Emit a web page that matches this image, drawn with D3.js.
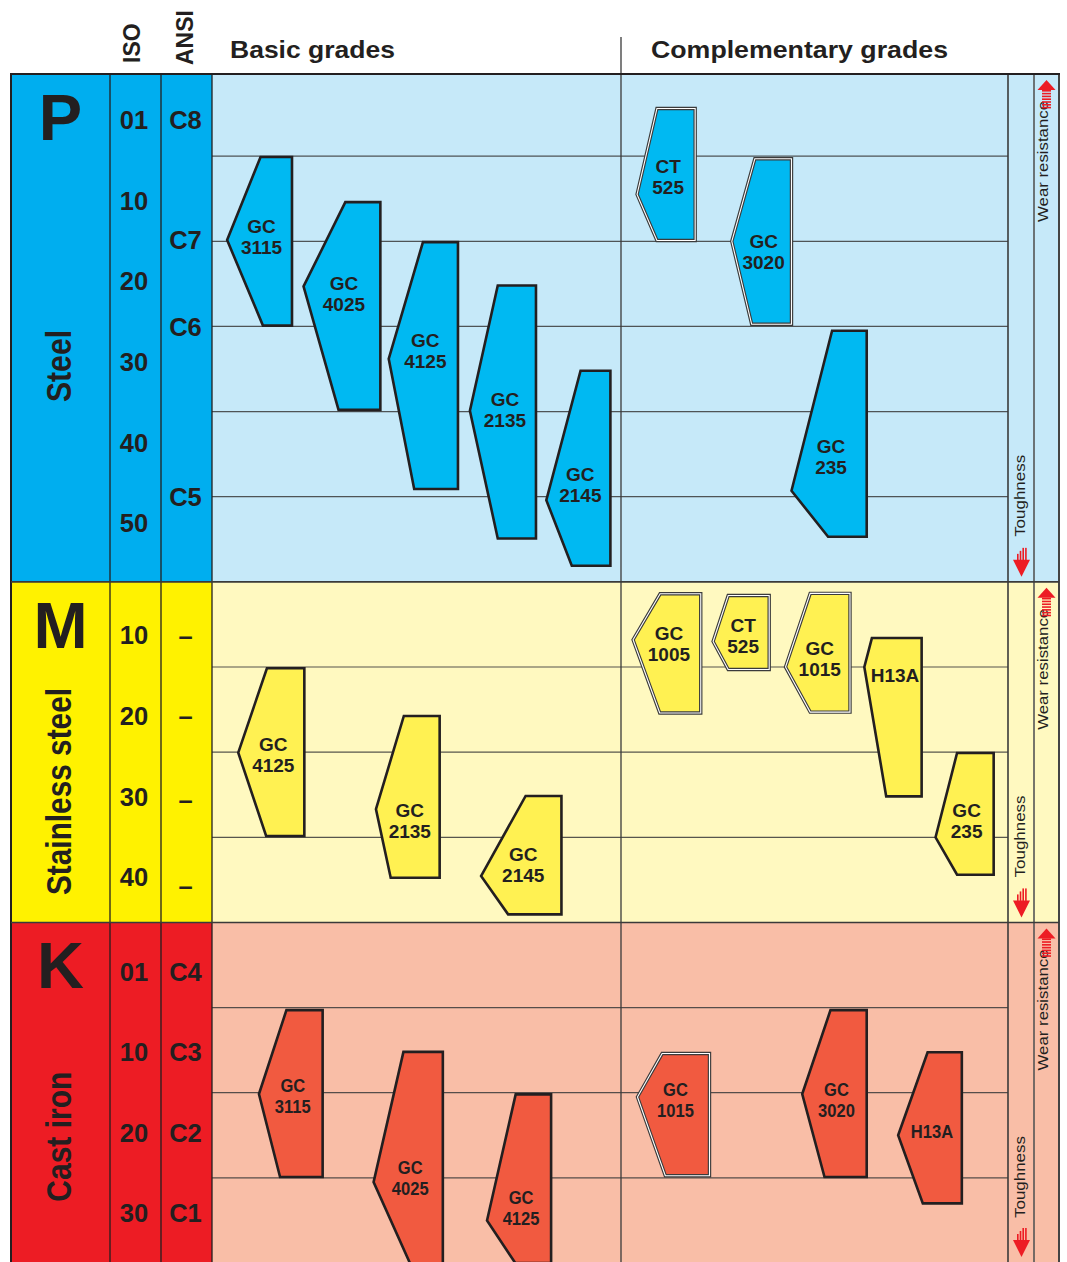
<!DOCTYPE html>
<html>
<head>
<meta charset="utf-8">
<script src="https://cdn.jsdelivr.net/npm/d3@7"></script>
<style>
  body { margin: 0; background: #fff; }
  svg { display: block; }
  text { font-family: "Liberation Sans", Arial, Helvetica, sans-serif; fill: #231f20; }
</style>
</head>
<body>
<svg id="chart" width="1067" height="1262"></svg>
<script>
// ---- material groups -------------------------------------------------------
const groups = ["P", "M", "K"];
const groupNames = ["Steel", "Stainless steel", "Cast iron"];
// span of each group on the shared row grid (one row = one grid band)
const groupRows = [[0, 6], [6, 10], [10, 14]];

// ISO application groups and ANSI classes, with their row positions
const isoTicks = [["01", "10", "20", "30", "40", "50"], ["10", "20", "30", "40"], ["01", "10", "20", "30"]];
const isoRows = [[0.575, 1.527, 2.466, 3.418, 4.369, 5.309], [6.624, 7.576, 8.527, 9.467], [10.577, 11.526, 12.477, 13.417]];
const ansiTicks = [["C8", "C7", "C6", "C5"], ["–", "–", "–", "–"], ["C4", "C3", "C2", "C1"]];
const ansiRows = [[0.575, 1.985, 3.007, 5.0], [6.64, 7.58, 8.56, 9.57], [10.577, 11.526, 12.477, 13.417]];

// ---- grade application areas ----------------------------------------------
// rows: [top, point, bottom, label centre] on the row grid
// cols: [point, top-left, bottom-left, right] in % of the grade area width
const steelGrades = [
  { grade: "GC 3115", rows: [1.01, 1.985, 2.99, 1.95],  cols: [1.9, 6.1, 6.4, 10.05] },
  { grade: "GC 4025", rows: [1.54, 2.53, 3.98, 2.62],   cols: [11.5, 16.75, 15.9, 21.15] },
  { grade: "GC 4125", rows: [2.01, 3.38, 4.91, 3.28],   cols: [22.2, 26.5, 25.4, 30.9] },
  { grade: "GC 2135", rows: [2.52, 3.99, 5.49, 3.98],   cols: [32.4, 35.9, 35.9, 40.7] },
  { grade: "GC 2145", rows: [3.52, 5.04, 5.81, 4.86],   cols: [42.0, 46.3, 45.2, 50.05] },
  { grade: "CT 525",  rows: [0.44, 1.45, 1.99, 1.245],  cols: [53.4, 55.9, 55.9, 60.7] },
  { grade: "GC 3020", rows: [1.03, 2.0, 2.975, 2.12],   cols: [65.3, 68.2, 67.8, 72.8] },
  { grade: "GC 235",  rows: [3.05, 4.93, 5.47, 4.53],   cols: [72.8, 77.9, 77.4, 82.25] }
];
const stainlessGrades = [
  { grade: "GC 4125", rows: [7.015, 8.006, 8.985, 8.03], cols: [3.3, 6.9, 6.8, 11.6] },
  { grade: "GC 2135", rows: [7.575, 8.67, 9.475, 8.81],  cols: [20.6, 24.1, 22.45, 28.6] },
  { grade: "GC 2145", rows: [8.515, 9.455, 9.905, 9.32], cols: [33.8, 39.4, 37.2, 43.9] },
  { grade: "GC 1005", rows: [6.14, 6.68, 7.54, 6.72],    cols: [52.9, 56.3, 56.25, 61.4] },
  { grade: "CT 525",  rows: [6.16, 6.70, 7.03, 6.636],   cols: [62.95, 64.85, 64.85, 70.0] },
  { grade: "GC 1015", rows: [6.135, 7.0, 7.53, 6.9],     cols: [72.05, 75.15, 75.15, 80.15] },
  { grade: "H13A",    rows: [6.66, 7.0, 8.52, 7.09],     cols: [81.95, 82.9, 84.7, 89.15] },
  { grade: "GC 235",  rows: [8.01, 9.0, 9.44, 8.81],     cols: [90.9, 93.6, 93.6, 98.2] }
];
const castIronGrades = [
  { grade: "GC 3115", rows: [11.03, 12.015, 12.99, 12.04], cols: [5.9, 9.35, 8.55, 13.9] },
  { grade: "GC 4025", rows: [11.52, 13.05, 14.05, 13.0],   cols: [20.3, 24.05, 25.1, 29.0] },
  { grade: "GC 4125", rows: [12.02, 13.5, 14.0, 13.35],    cols: [34.55, 38.15, 38.1, 42.6] },
  { grade: "GC 1015", rows: [11.54, 12.05, 12.975, 12.09], cols: [53.45, 56.55, 56.95, 62.5] },
  { grade: "GC 3020", rows: [11.03, 12.015, 12.99, 12.085], cols: [74.15, 77.7, 76.95, 82.25] },
  { grade: "H13A",    rows: [11.525, 12.5, 13.3, 12.45],   cols: [86.2, 89.9, 89.3, 94.2] }
];
const gradeSets = [steelGrades, stainlessGrades, castIronGrades];

// grades drawn with a double outline
const doubleOutlined = [["P", "CT 525"], ["P", "GC 3020"], ["M", "GC 1005"], ["M", "CT 525"], ["M", "GC 1015"], ["K", "GC 1015"]];

const headers = ["Basic grades", "Complementary grades"];

// ---- styling ---------------------------------------------------------------
const strongColor = ["#00aeef", "#fff200", "#ed1c24"];
const lightColor  = ["#c6e9f9", "#fff9c0", "#f9bea7"];
const shapeColor  = ["#00b9f2", "#fff152", "#f15a40"];
const ink = "#231f20";

const W = 1067, H = 1262;
const L = { left: 11, top: 74, isoX: 110, ansiX: 161, plotX: 212, split: 621, plotR: 1008, tough: 1034, right: 1059, headTop: 37 };

const svg = d3.select("#chart");
const y = d3.scaleLinear().domain([0, 14]).range([71, 1263]);
const x = d3.scaleLinear().domain([0, 100]).range([L.plotX, L.plotR]);

const secTop = i => i === 0 ? L.top : y(groupRows[i][0]);
const secBot = i => Math.min(H + 2, y(groupRows[i][1]));

const bg = svg.append("g");
const grid = svg.append("g");
const marks = svg.append("g");
const frame = svg.append("g");
const labels = svg.append("g");

groups.forEach((g, i) => {
  const t = secTop(i), b = secBot(i);
  bg.append("rect").attr("x", L.left).attr("y", t).attr("width", L.plotX - L.left).attr("height", b - t).attr("fill", strongColor[i]);
  bg.append("rect").attr("x", L.plotX).attr("y", t).attr("width", L.right - L.plotX).attr("height", b - t).attr("fill", lightColor[i]);

  // grid bands
  grid.selectAll(null).data(d3.range(groupRows[i][0] + 1, groupRows[i][1])).join("line")
    .attr("x1", L.plotX).attr("x2", L.plotR)
    .attr("y1", d => y(d)).attr("y2", d => y(d))
    .attr("stroke", "#3a3a3a").attr("stroke-width", 1.2).attr("stroke-opacity", 0.85);

  // grade areas
  const dbl = new Set(doubleOutlined.filter(d => d[0] === g).map(d => d[1]));
  const line = d3.line();
  const polys = gradeSets[i].map(d => {
    const [rt, ra, rb] = d.rows, [ca, ctl, cbl, cr] = d.cols;
    return { d, pts: [[x(ca), y(ra)], [x(ctl), y(rt)], [x(cr), y(rt)], [x(cr), y(rb)], [x(cbl), y(rb)]] };
  });
  const gsel = marks.selectAll(null).data(polys).join("g");
  gsel.append("path")
    .attr("d", p => line(p.pts) + "Z")
    .attr("fill", shapeColor[i])
    .attr("stroke", p => dbl.has(p.d.grade) ? "#3b3b3b" : ink)
    .attr("stroke-width", p => dbl.has(p.d.grade) ? 3.4 : 2.6)
    .attr("stroke-linejoin", "miter");
  gsel.filter(p => dbl.has(p.d.grade)).append("path")
    .attr("d", p => line(p.pts) + "Z")
    .attr("fill", "none").attr("stroke", "#ffffff").attr("stroke-width", 1.1);

  const fs = i === 2 ? 18 : 19;
  gsel.each(function (p) {
    const parts = p.d.grade.split(" ");
    const cx = (x(p.d.cols[0]) + x(p.d.cols[3])) / 2 + 2;
    const cy = y(p.d.rows[3]);
    const pitch = 21;
    const tx = d3.select(this).append("text")
      .attr("text-anchor", "middle").attr("font-weight", "bold").attr("font-size", fs)
      .attr("transform", i === 2 ? `translate(${cx},0) scale(0.92,1) translate(${-cx},0)` : null);
    parts.forEach((s, k) => {
      tx.append("tspan").attr("x", cx)
        .attr("y", cy + (k - (parts.length - 1) / 2) * pitch + fs * 0.36)
        .text(s);
    });
  });

  // group letter and name
  labels.append("text").attr("x", (L.left + L.isoX) / 2).attr("y", t + 66)
    .attr("text-anchor", "middle").attr("font-weight", "bold").attr("font-size", 65).text(g);
  const nameLen = [72, 207, 130][i];
  const nameMid = [366, 791.5, 1136.7][i];
  labels.append("text")
    .attr("transform", `translate(71,${nameMid}) rotate(-90)`)
    .attr("text-anchor", "middle").attr("font-weight", "bold").attr("font-size", 35)
    .attr("textLength", nameLen).attr("lengthAdjust", "spacingAndGlyphs")
    .text(groupNames[i]);

  // ISO / ANSI classes
  labels.selectAll(null).data(isoTicks[i].map((s, k) => [s, isoRows[i][k]])).join("text")
    .attr("x", 134).attr("y", d => y(d[1]) + 25 * 0.36)
    .attr("text-anchor", "middle").attr("font-weight", "bold").attr("font-size", 25.5)
    .text(d => d[0]);
  labels.selectAll(null).data(ansiTicks[i].map((s, k) => [s, ansiRows[i][k]])).join("text")
    .attr("x", 185.5).attr("y", d => y(d[1]) + 25 * 0.36)
    .attr("text-anchor", "middle").attr("font-weight", "bold").attr("font-size", 25.5)
    .text(d => d[0]);

  // toughness / wear resistance
  labels.append("text")
    .attr("transform", `translate(1025,${b - 45}) rotate(-90)`)
    .attr("font-size", 15.5).attr("textLength", 82).attr("lengthAdjust", "spacingAndGlyphs")
    .text("Toughness");
  labels.append("text")
    .attr("transform", `translate(1048,${t + 148}) rotate(-90)`)
    .attr("font-size", 15.5).attr("textLength", 121).attr("lengthAdjust", "spacingAndGlyphs")
    .text("Wear resistance");

  // arrow down (toughness)
  const ab = Math.min(b, H) - 5, ax = 1021.5;
  const ar = labels.append("g").attr("fill", "#ed1c24").attr("stroke", "none");
  ar.append("path").attr("d", `M${ax - 8.5},${ab - 17}L${ax + 8.5},${ab - 17}L${ax},${ab}Z`);
  [[-4.5, 6], [-1.8, 9], [0.9, 12], [3.6, 12]].forEach(([dx, len]) => {
    ar.append("rect").attr("x", ax + dx).attr("y", ab - 17 - len).attr("width", 1.6).attr("height", len + 0.5);
  });
  // arrow up (wear resistance)
  const at = t + 6, wx = 1046.5;
  const aw = labels.append("g").attr("fill", "#ed1c24");
  aw.append("path").attr("d", `M${wx - 9},${at + 10}L${wx + 9},${at + 10}L${wx},${at}Z`);
  d3.range(0, 7).forEach(k => {
    aw.append("rect").attr("x", wx - 4.5).attr("y", at + 10 + k * 2.8).attr("width", 9).attr("height", 1.6);
  });
});

// ---- frame -----------------------------------------------------------------
const vline = (xx, y1, y2, w, c) => frame.append("line").attr("x1", xx).attr("x2", xx).attr("y1", y1).attr("y2", y2)
  .attr("stroke", c || ink).attr("stroke-width", w || 1.3);
const hline = (yy, x1, x2, w, c) => frame.append("line").attr("x1", x1).attr("x2", x2).attr("y1", yy).attr("y2", yy)
  .attr("stroke", c || ink).attr("stroke-width", w || 1.3);

vline(L.left, L.top, H, 2);
vline(L.isoX, L.top, H, 1.3);
vline(L.ansiX, L.top, H, 1.3);
vline(L.plotX, L.top, H, 1.3);
vline(L.split, L.headTop, H, 1.3, "#3a3a3a");
vline(L.plotR, L.top, H, 1.6, "#3a3a3a");
vline(L.tough, L.top, H, 1.6, "#555");
vline(L.right, L.top, H, 2, "#444");
hline(L.top, L.left - 1, L.right + 1, 2);
hline(y(6), L.left, L.right, 1.6, "#3a3a3a");
hline(y(10), L.left, L.right, 1.6, "#3a3a3a");

// ---- headers ---------------------------------------------------------------
labels.append("text").attr("transform", "translate(140,63) rotate(-90)")
  .attr("font-weight", "bold").attr("font-size", 23).text("ISO");
labels.append("text").attr("transform", "translate(193,65) rotate(-90)")
  .attr("font-weight", "bold").attr("font-size", 23).text("ANSI");
labels.append("text").attr("x", 230).attr("y", 58).attr("font-weight", "bold").attr("font-size", 24)
  .attr("textLength", 165).attr("lengthAdjust", "spacingAndGlyphs").text(headers[0]);
labels.append("text").attr("x", 651).attr("y", 58).attr("font-weight", "bold").attr("font-size", 24)
  .attr("textLength", 297).attr("lengthAdjust", "spacingAndGlyphs").text(headers[1]);
</script>
</body>
</html>
